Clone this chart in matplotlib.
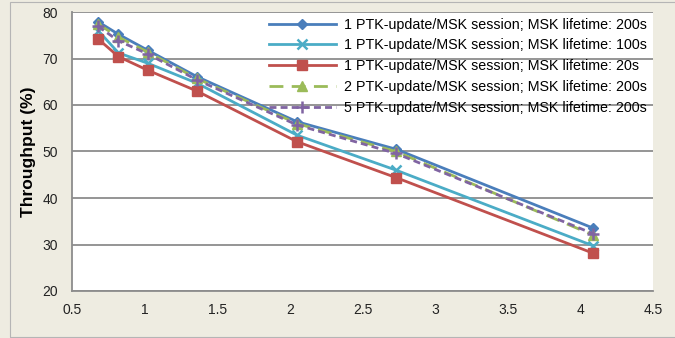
import matplotlib.pyplot as plt
from matplotlib.patches import Rectangle

# data
x_vals = [0.68, 0.82, 1.02, 1.36, 2.05, 2.73, 4.09]
s_1ptk_200 = [77.9, 75.2, 71.8, 66.1, 56.4, 50.5, 33.5]
s_1ptk_100 = [76.0, 71.2, 69.0, 64.7, 53.5, 46.0, 29.7]
s_1ptk_20 = [74.2, 70.4, 67.5, 63.0, 52.1, 44.4, 28.1]
s_2ptk_200 = [77.4, 74.6, 71.4, 65.7, 56.0, 50.0, 32.0]
s_5ptk_200 = [76.9, 73.8, 71.0, 65.4, 55.7, 49.6, 32.3]

labels = [
    "1 PTK-update/MSK session; MSK lifetime: 200s",
    "1 PTK-update/MSK session; MSK lifetime: 100s",
    "1 PTK-update/MSK session; MSK lifetime: 20s",
    "2 PTK-update/MSK session; MSK lifetime: 200s",
    "5 PTK-update/MSK session; MSK lifetime: 200s",
]
x_ticks = [0.5, 1, 1.5, 2, 2.5, 3, 3.5, 4, 4.5]
y_ticks = [20, 30, 40, 50, 60, 70, 80]

bg = "#EEECE1"
grid_c = "#8C8C8C"

plt.rcParams["font.family"] = ["Liberation Sans", "DejaVu Sans"]

fig = plt.figure(figsize=(6.75, 3.38), dpi=100, facecolor=bg)
ax = fig.add_axes([72 / 675, 1 - 291 / 338, 581 / 675, 279 / 338])
ax.set_facecolor("white")

# chart border
fig.patches.append(Rectangle((10 / 675, 1 / 338), 0.99, 335 / 338, transform=fig.transFigure,
                             fill=False, edgecolor="#B5B5B5", linewidth=0.8))

styles = [
    (s_1ptk_200, "#4A7EBB", "D", 5, "-"),
    (s_1ptk_100, "#4BACC6", "x", 7, "-"),
    (s_1ptk_20, "#C0504D", "s", 7, "-"),
    (s_2ptk_200, "#9BBB59", "^", 7, (0, (5, 3))),
    (s_5ptk_200, "#8064A2", "+", 8, (0, (2.5, 1.5))),
]
for (ys, c, m, ms, ls), lab in zip(styles, labels):
    ax.plot(x_vals, ys, color=c, marker=m, markersize=ms, linestyle=ls, linewidth=2,
            markeredgewidth=1.8 if m in "x+" else 1, label=lab)

ax.set_xlim(0.5, 4.5)
ax.set_ylim(20, 80)
ax.set_xticks(x_ticks)
ax.set_xticklabels([f"{t:g}" for t in x_ticks])
ax.set_yticks(y_ticks)
ax.yaxis.grid(True, color=grid_c, linewidth=1.3)
ax.set_axisbelow(True)
ax.tick_params(length=0, labelsize=10, colors="#222222")
ax.tick_params(axis="x", pad=9)
ax.tick_params(axis="y", pad=10)
for side in ["top", "right"]:
    ax.spines[side].set_visible(False)
for side in ["left", "bottom"]:
    ax.spines[side].set_color(grid_c)
    ax.spines[side].set_linewidth(1.3)

ax.set_ylabel("Throughput (%)", fontsize=12.5, fontweight="bold", labelpad=5)

ax.legend(loc="upper right", bbox_to_anchor=(1.0, 1.0), frameon=False, fontsize=10.3,
          handlelength=4.7, handletextpad=0.6, labelspacing=0.47, borderaxespad=0)

fig.savefig("out.png", dpi=100, facecolor=bg)
